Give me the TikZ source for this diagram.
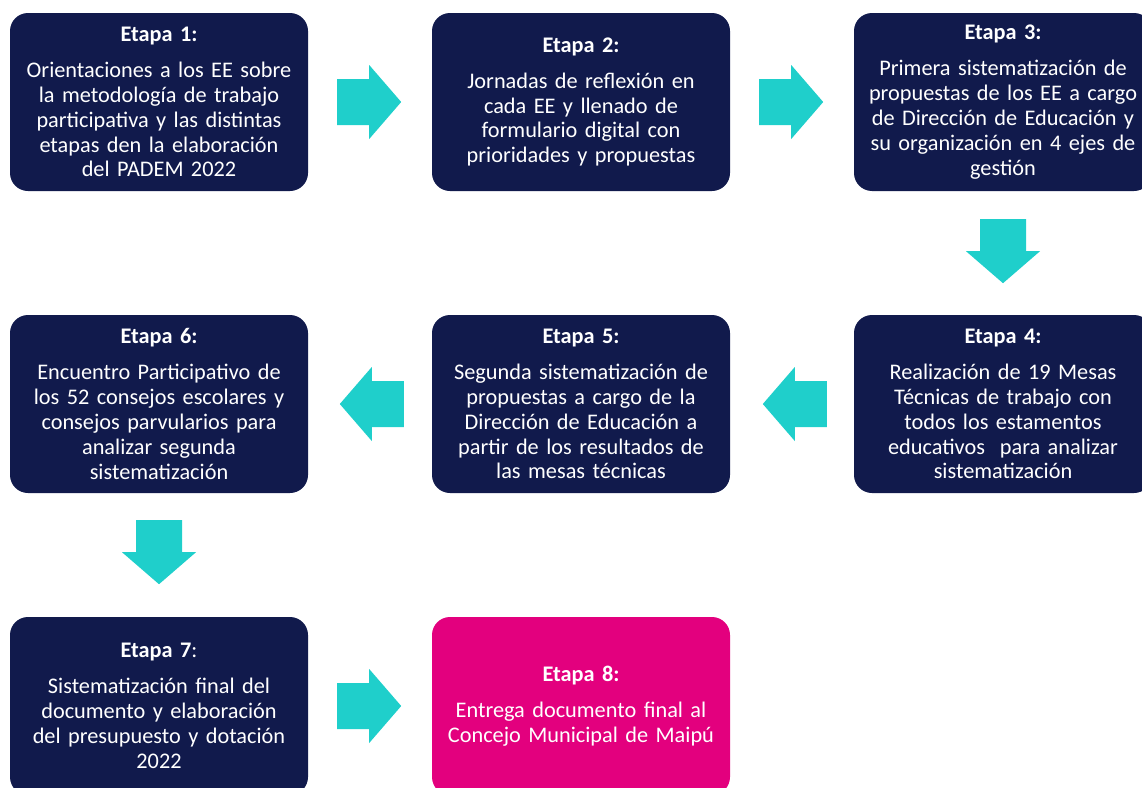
\documentclass[tikz,border=0pt]{standalone}
\usepackage{fontspec}
\setmainfont{Carlito}
\usetikzlibrary{calc}
\definecolor{navy}{HTML}{111A4C}
\definecolor{teal}{HTML}{1FCFCB}
\definecolor{magenta}{HTML}{E3007E}
\tikzset{
  stage/.style={rounded corners=18pt, fill=navy, text=white, minimum width=298pt, minimum height=178pt,
    text width=294pt, align=center, inner sep=0pt, font=\fontsize{22.3}{24.9}\selectfont},
  final/.style={stage, fill=magenta},
  blockarrow/.pic={\fill[teal] (0,-23) -- (32,-23) -- (32,-37) -- (64,0) -- (32,37) -- (32,23) -- (0,23) -- cycle;}
}
\newcommand{\ttl}[1]{\textbf{#1}\\[11pt]}
\begin{document}
\begin{tikzpicture}[x=1pt,y=-1pt]
\useasboundingbox (0,0) rectangle (1142,787);
\node[stage] (e1) at (159,102) {\ttl{Etapa 1:}Orientaciones a los EE sobre\\la metodología de trabajo\\participativa y las distintas\\etapas den la elaboración\\del PADEM 2022};
\node[stage] (e2) at (581,102) {\ttl{Etapa 2:}Jornadas de reflexión en\\cada EE y llenado de\\formulario digital con\\prioridades y propuestas};
\node[stage] (e3) at (1003,102) {\ttl{Etapa 3:}Primera sistematización de\\propuestas de los EE a cargo\\de Dirección de Educación y\\su organización en 4 ejes de\\gestión};
\node[stage] (e4) at (1003,404) {\ttl{Etapa 4:}Realización de 19 Mesas\\Técnicas de trabajo con\\todos los estamentos\\educativos\ \ para analizar\\sistematización};
\node[stage] (e5) at (581,404) {\ttl{Etapa 5:}Segunda sistematización de\\propuestas a cargo de la\\Dirección de Educación a\\partir de los resultados de\\las mesas técnicas};
\node[stage] (e6) at (159,404) {\ttl{Etapa 6:}Encuentro Participativo de\\los 52 consejos escolares y\\consejos parvularios para\\analizar segunda\\sistematización};
\node[stage] (e7) at (159,706) {\textbf{Etapa 7}:\\[11pt]Sistematización final del\\documento y elaboración\\del presupuesto y dotación\\2022};
\node[final] (e8) at (581,706) {\ttl{Etapa 8:}Entrega documento final al\\Concejo Municipal de Maipú};
\pic at ($(e1.east)+(29,0)$) {blockarrow};
\pic at ($(e2.east)+(29,0)$) {blockarrow};
\pic[rotate=-90] at ($(e3.south)+(0,28)$) {blockarrow};
\pic[rotate=180] at ($(e4.west)+(-27,0)$) {blockarrow};
\pic[rotate=180] at ($(e5.west)+(-28,0)$) {blockarrow};
\pic[rotate=-90] at ($(e6.south)+(0,27)$) {blockarrow};
\pic at ($(e7.east)+(29,0)$) {blockarrow};
\end{tikzpicture}
\end{document}
